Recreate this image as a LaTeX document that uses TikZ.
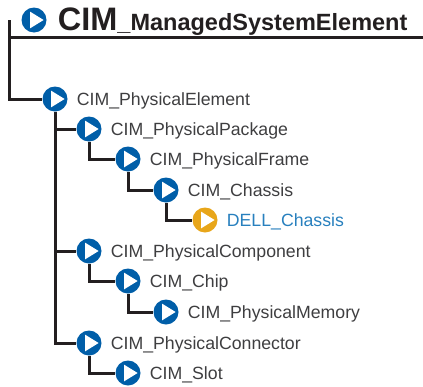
\documentclass[tikz,border=0pt]{standalone}
\usepackage{xcolor}
\usepackage{fontspec}
\setmainfont{Liberation Sans}
\usetikzlibrary{positioning}
\definecolor{cimblue}{RGB}{0,94,168}
\definecolor{cimorange}{RGB}{232,166,26}
\definecolor{cimtext}{RGB}{62,62,64}
\definecolor{dellblue}{RGB}{40,128,190}
\definecolor{cimline}{RGB}{35,31,32}
\tikzset{
  icon/.style={circle,fill=#1,minimum size=25pt,inner sep=0pt,
    path picture={\fill[white] (-4,-8.4) -- (9.6,0) -- (-4,8.4) -- cycle;}},
  icon/.default=cimblue,
  classname/.style={right=9pt of #1,yshift=-1.5pt,inner sep=0pt,text=cimtext,font=\fontsize{17.7}{19}\selectfont},
  link/.style={draw=cimline,line width=3pt}
}
\begin{document}
\begin{tikzpicture}[x=1pt,y=-1pt]
\useasboundingbox (0,0) rectangle (423,386);
\node[icon] (root) at (34,20) {};
\node[icon] (element) at (55,99) {};
\node[icon] (package) at (89,129) {};
\node[icon] (frame) at (128,159) {};
\node[icon] (chassis) at (166,190) {};
\node[icon=cimorange] (dell) at (205,220) {};
\node[icon] (component) at (89,251) {};
\node[icon] (chip) at (128,281) {};
\node[icon] (memory) at (166,312) {};
\node[icon] (connector) at (89,343) {};
\node[icon] (slot) at (128,373) {};
% labels
\node[right=11pt of root,yshift=-2pt,inner sep=0pt,text=cimline,font=\bfseries] (roottext)
  {\fontsize{32.5}{33}\selectfont CIM\fontsize{23.5}{24}\selectfont\_ManagedSystemElement};
\node[classname=element] (elementtext) {CIM\_PhysicalElement};
\node[classname=package] (packagetext) {CIM\_PhysicalPackage};
\node[classname=frame] (frametext) {CIM\_PhysicalFrame};
\node[classname=chassis] (chassistext) {CIM\_Chassis};
\node[classname=dell,text=dellblue] (delltext) {DELL\_Chassis};
\node[classname=component] (componenttext) {CIM\_PhysicalComponent};
\node[classname=chip] (chiptext) {CIM\_Chip};
\node[classname=memory] (memorytext) {CIM\_PhysicalMemory};
\node[classname=connector] (connectortext) {CIM\_PhysicalConnector};
\node[classname=slot] (slottext) {CIM\_Slot};
% connectors
\coordinate (roottop) at (9,20);
\coordinate (rulestart) at (9,37.5);
\coordinate (ruleend) at (423,37.5);
\draw[link] (rulestart) -- (ruleend);
\draw[link] (roottop) |- (element.west);
\draw[link] (element.south) |- (package.west);
\draw[link] (element.south) |- (component.west);
\draw[link] (element.south) |- (connector.west);
\draw[link] (package.south) |- (frame.west);
\draw[link] (frame.south) |- (chassis.west);
\draw[link] (chassis.south) |- (dell.west);
\draw[link] (component.south) |- (chip.west);
\draw[link] (chip.south) |- (memory.west);
\draw[link] (connector.south) |- (slot.west);
\end{tikzpicture}
\end{document}
